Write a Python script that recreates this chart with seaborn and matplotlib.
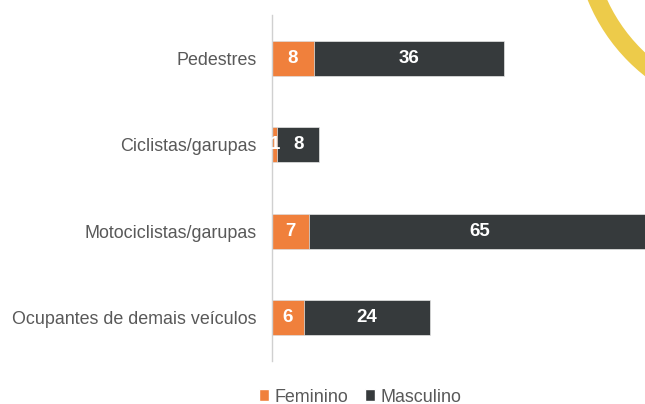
import matplotlib
matplotlib.use("Agg")
import matplotlib.pyplot as plt
import seaborn as sns
import pandas as pd
from matplotlib.patches import Patch, Wedge

categories = ["Pedestres", "Ciclistas/garupas", "Motociclistas/garupas", "Ocupantes de demais veículos"]
feminino = [8, 1, 7, 6]
masculino = [36, 8, 65, 24]

orange = "#F0803C"
dark = "#363A3C"
gray_text = "#595959"

sns.set_style("white")
plt.rcParams["font.family"] = ["Liberation Sans", "DejaVu Sans"]

df = pd.DataFrame({"categoria": categories, "Feminino": feminino, "Masculino": masculino})
df["total"] = df["Feminino"] + df["Masculino"]

fig = plt.figure(figsize=(6.45, 4.04), dpi=100)
ax = fig.add_axes([272 / 645, 43 / 404, 1 - 272 / 645, 346 / 404])

sns.barplot(data=df, y="categoria", x="total", color=dark, orient="h", width=0.4, ax=ax,
            saturation=1, edgecolor="#e6e6e6", linewidth=0.5)
sns.barplot(data=df, y="categoria", x="Feminino", color=orange, orient="h", width=0.4, ax=ax,
            saturation=1, edgecolor="#e6e6e6", linewidth=0.5)

for i, row in df.iterrows():
    ax.text(row["Feminino"] / 2, i, str(row["Feminino"]), ha="center", va="center",
            color="white", fontsize=13.5, fontweight="bold")
    ax.text(row["Feminino"] + row["Masculino"] / 2, i, str(row["Masculino"]), ha="center", va="center",
            color="white", fontsize=13.5, fontweight="bold")

ax.set_xlim(0, 70.8)
ax.set_ylim(3.5, -0.5)
ax.set_xlabel("")
ax.set_ylabel("")
ax.set_xticks([])
ax.tick_params(axis="y", length=0, pad=11, labelsize=12.9, labelcolor=gray_text)
for s in ["top", "right", "bottom"]:
    ax.spines[s].set_visible(False)
ax.spines["left"].set_color("#d0d0d0")
ax.spines["left"].set_linewidth(1)

handles = [Patch(facecolor=orange, label="Feminino"), Patch(facecolor=dark, label="Masculino")]
fig.legend(handles=handles, loc="center", bbox_to_anchor=(360 / 645, 7 / 404), ncol=2, frameon=False,
           handlelength=0.6, handleheight=0.6, handletextpad=0.3, columnspacing=0.9,
           fontsize=12.9, labelcolor=gray_text)

# decorative yellow ring in the top-right corner
ring = Wedge((760, 404 + 70), 186, 0, 360, width=18, transform=None, facecolor="#EDCB4A", edgecolor="none")
fig.add_artist(ring)

fig.savefig("out.png", dpi=100)
